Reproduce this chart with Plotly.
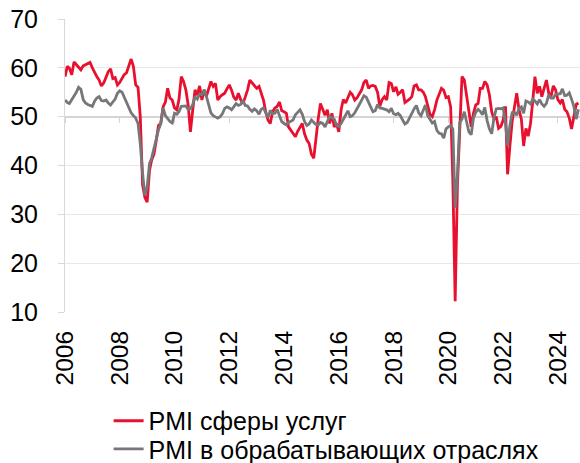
import pandas as pd
import plotly.graph_objects as go

# PMI services (monthly, Jan 2006 - Oct 2024)
services = [
    58.2, 60.3, 59.9, 58.6, 61.2, 60.6, 60.0, 59.6, 60.4, 60.6, 60.8, 61.1,  # 2006
    60.0, 59.0, 58.2, 57.5, 56.3, 56.9, 58.0, 59.2, 59.8, 57.8, 58.0, 56.5,  # 2007
    57.0, 57.8, 58.6, 59.0, 60.3, 61.8, 60.3, 56.5, 56.0, 50.0, 36.0, 33.5,  # 2008
    32.5, 39.0, 41.1, 42.3, 45.0, 48.2, 48.6, 52.0, 53.0, 55.8, 53.8, 53.4,  # 2009
    51.8, 51.4, 53.5, 58.2, 57.2, 55.5, 52.5, 46.9, 51.4, 55.5, 54.4, 56.3,  # 2010
    53.4, 55.5, 54.1, 55.5, 57.2, 56.2, 56.8, 53.4, 54.1, 54.5, 54.8, 55.7,  # 2011
    56.5, 55.4, 54.0, 53.4, 54.8, 53.5, 52.7, 54.0, 55.5, 57.5, 57.0, 56.5,  # 2012
    55.8, 56.2, 55.0, 53.4, 51.0, 49.3, 48.6, 51.0, 51.8, 52.1, 53.0, 51.2,  # 2013
    51.0, 50.7, 47.9, 47.2, 46.6, 45.9, 47.0, 47.9, 48.6, 46.5, 45.2, 44.5,  # 2014
    42.3, 41.5, 46.0, 49.5, 52.7, 51.4, 50.3, 51.4, 48.6, 50.7, 47.9, 48.6,  # 2015
    46.9, 51.4, 53.5, 52.8, 54.0, 55.0, 54.5, 53.4, 53.9, 54.7, 55.5, 57.0,  # 2016
    57.5, 55.8, 56.3, 56.4, 56.2, 55.0, 52.1, 53.5, 54.1, 53.4, 57.0, 56.8,  # 2017
    55.1, 56.1, 54.6, 55.0, 55.5, 52.9, 53.2, 53.6, 54.1, 56.3, 56.5, 55.5,  # 2018
    55.5, 55.0, 54.1, 52.0, 50.5, 50.0, 51.4, 53.4, 54.6, 55.8, 55.4, 53.9,  # 2019
    54.1, 52.0, 37.0, 12.2, 35.9, 47.6, 58.2, 57.5, 54.0, 51.0, 47.9, 50.7,  # 2020
    52.4, 52.7, 55.8, 55.8, 57.2, 56.5, 54.5, 51.0, 49.5, 50.0, 47.6, 48.0,  # 2021
    49.3, 52.1, 38.2, 44.0, 49.0, 52.0, 54.8, 51.4, 49.5, 44.0, 47.6, 46.0,  # 2022
    48.6, 53.4, 58.2, 54.8, 56.2, 54.1, 56.0, 57.5, 54.8, 54.1, 56.3, 55.5,  # 2023
    53.5, 52.8, 53.5, 51.5, 51.0, 49.7, 47.5, 50.0, 52.5, 52.8,              # 2024
]

# PMI manufacturing (monthly, Jan 2006 - Oct 2024)
manufacturing = [
    53.4, 52.9, 52.7, 53.5, 54.0, 55.0, 56.0, 55.6, 53.5, 52.8, 52.5, 52.3,  # 2006
    52.1, 53.2, 53.8, 54.1, 53.3, 53.2, 53.4, 52.8, 52.4, 53.0, 53.6, 54.8,  # 2007
    55.3, 55.0, 54.0, 53.2, 52.1, 50.8, 50.2, 49.7, 48.6, 44.5, 38.4, 33.9,  # 2008
    35.6, 40.4, 41.5, 43.5, 45.0, 47.3, 48.5, 51.8, 50.2, 49.5, 49.0, 48.7,  # 2009
    50.7, 50.5, 51.0, 52.1, 52.2, 52.2, 51.5, 51.6, 52.5, 54.1, 53.6, 54.6,  # 2010
    54.5, 55.5, 54.2, 52.5, 50.8, 50.2, 49.9, 49.7, 50.0, 50.6, 51.7, 52.0,  # 2011
    51.8, 51.4, 52.0, 52.7, 52.3, 52.5, 53.3, 52.3, 52.2, 51.5, 51.1, 51.6,  # 2012
    51.2, 50.5, 51.5, 51.8, 50.8, 49.8, 51.3, 50.6, 50.7, 51.5, 50.2, 49.0,  # 2013
    48.6, 48.3, 48.8, 49.0, 49.3, 50.4, 50.8, 51.4, 50.5, 49.0, 48.2, 48.5,  # 2014
    49.3, 48.8, 48.4, 48.3, 48.8, 48.6, 47.9, 49.0, 50.0, 49.8, 49.5, 48.3,  # 2015
    48.0, 48.6, 49.5, 50.6, 51.2, 50.0, 50.2, 50.8, 51.8, 52.5, 53.4, 54.3,  # 2016
    54.0, 52.8, 52.0, 51.0, 51.2, 52.5, 51.8, 51.7, 51.5, 51.4, 51.0, 51.7,  # 2017
    50.6, 50.4, 50.7, 50.2, 49.3, 48.5, 48.8, 49.8, 50.6, 51.6, 52.3, 50.8,  # 2018
    50.2, 51.2, 52.4, 50.2, 49.4, 48.7, 49.0, 47.2, 46.6, 46.5, 45.6, 47.5,  # 2019
    47.9, 48.2, 47.5, 31.3, 38.0, 48.8, 49.5, 51.0, 48.9, 46.9, 46.3, 49.7,  # 2020
    50.9, 51.5, 51.1, 50.4, 51.9, 49.2, 47.5, 46.5, 49.8, 51.6, 51.7, 51.6,  # 2021
    51.8, 48.6, 44.1, 48.2, 50.8, 50.9, 50.3, 51.7, 52.0, 50.7, 53.2, 53.0,  # 2022
    52.6, 53.6, 53.2, 52.6, 53.5, 52.6, 52.1, 52.7, 54.5, 53.8, 53.8, 54.6,  # 2023
    54.6, 54.7, 55.7, 54.3, 54.4, 54.9, 53.6, 52.1, 49.5, 51.5,              # 2024
]

tick_years = ["2006", "2008", "2010", "2012", "2014", "2016", "2018", "2020", "2022", "2024"]
y_ticks = [10, 20, 30, 40, 50, 60, 70]
series_names = ["PMI сферы услуг", "PMI в обрабатывающих отраслях"]

months = pd.date_range("2006-01-01", periods=len(services), freq="MS")
tick_dates = [f"{y}-01-01" for y in tick_years]
x_range = ["2006-01-01", "2024-10-22"]

RED = "#E8102E"
GRAY = "#77777A"
FONT = "Liberation Sans, Arial, sans-serif"

fig = go.Figure()
fig.add_trace(go.Scatter(x=months, y=services, mode="lines", name=series_names[0],
                         line=dict(color=RED, width=2.8), legend="legend",
                         showlegend=True))
fig.add_trace(go.Scatter(x=months, y=manufacturing, mode="lines", name=series_names[1],
                         line=dict(color=GRAY, width=2.8), legend="legend2",
                         xaxis="x2", yaxis="y", showlegend=True))

fig.update_layout(
    width=580, height=463,
    margin=dict(l=65, r=0, t=19, b=151, autoexpand=False),
    paper_bgcolor="white", plot_bgcolor="white",
    font=dict(family=FONT, size=24, color="black"),
    xaxis=dict(type="date", range=x_range, tickvals=tick_dates, ticktext=tick_years,
               tickangle=-90, showgrid=False, showline=False, zeroline=False,
               ticks="", ticklabelstandoff=13, tickfont=dict(size=24.5)),
    xaxis2=dict(type="date", range=x_range, overlaying="x", anchor="free",
                position=(50 - 10) / (70 - 10), showline=True, linecolor="#d4d4d4",
                linewidth=2, ticks="outside", ticklen=5, tickcolor="#d4d4d4",
                tickwidth=1, tickvals=tick_dates, showticklabels=False,
                showgrid=False, zeroline=False, layer="below traces"),
    yaxis=dict(range=[10, 70], tickvals=y_ticks, showgrid=True, gridcolor="#e8e8e8",
               gridwidth=1, showline=True, linecolor="#d9d9d9", linewidth=1,
               ticks="outside", ticklen=6, tickcolor="#d9d9d9", zeroline=False,
               ticklabelstandoff=15, ticklabeloverflow="allow", tickfont=dict(size=25)),
    legend=dict(x=0.0847, y=-0.372, xanchor="left", yanchor="middle",
                bgcolor="rgba(0,0,0,0)", font=dict(size=25)),
    legend2=dict(x=0.0847, y=-0.468, xanchor="left", yanchor="middle",
                 bgcolor="rgba(0,0,0,0)", font=dict(size=25)),
)

# remove the browser's default 8px page margin so the 580x463 figure fills the window
fig.write_html("out.html",
               config={"displayModeBar": False},
               post_script="document.body.style.margin='0';document.body.style.overflow='hidden';")
